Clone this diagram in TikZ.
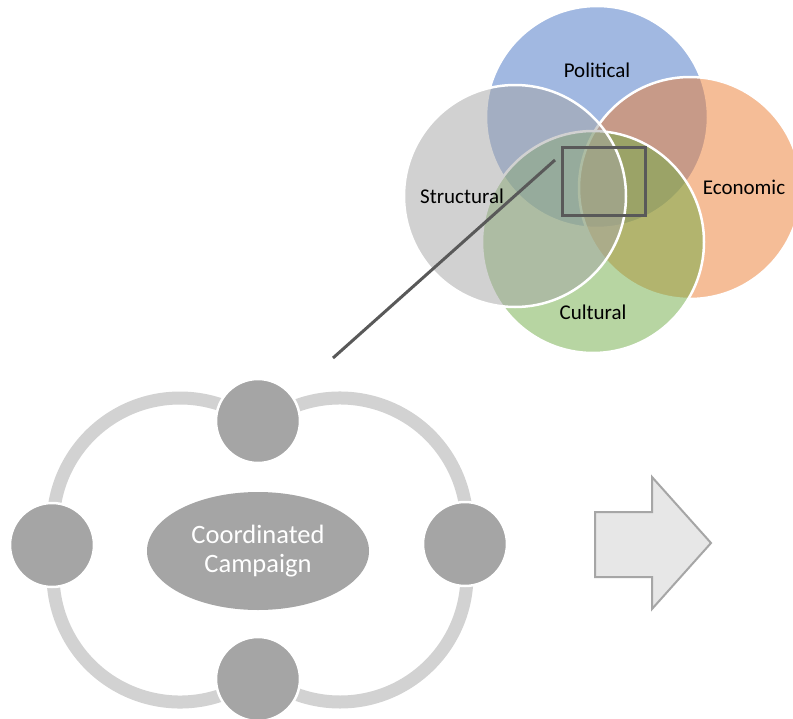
\documentclass[tikz,border=0pt]{standalone}
\usepackage{fontspec}
\setmainfont{Carlito}
\usetikzlibrary{shapes.geometric}
\definecolor{vblue}{HTML}{4472C4}
\definecolor{vorange}{HTML}{ED7D31}
\definecolor{vgray}{HTML}{A5A5A5}
\definecolor{vgreen}{HTML}{70AD47}
\definecolor{satgray}{HTML}{A5A5A5}
\definecolor{ringgray}{HTML}{D2D2D2}
\definecolor{darkline}{HTML}{595959}
\definecolor{arrowfill}{HTML}{E7E7E7}
\definecolor{arrowline}{HTML}{A6A6A6}
\begin{document}
\begin{tikzpicture}[x=1pt,y=-1pt,
  venn/.style={circle, minimum size=222pt, inner sep=0pt, draw=white, line width=2.5pt, fill opacity=0.5},
  vlabel/.style={font=\fontsize{21}{25}\selectfont, text=black, anchor=base, inner sep=0pt},
  sat/.style={circle, fill=satgray, draw=white, line width=2.5pt, minimum size=84pt, inner sep=0pt},
  ringarc/.style={draw=ringgray, line width=13pt},
  hub/.style={ellipse, fill=satgray, minimum width=222pt, minimum height=118pt, inner sep=0pt,
    text=white, align=center, font=\fontsize{26.5}{28.5}\selectfont},
  callout/.style={draw=darkline, line width=3pt},
  zoombox/.style={draw=darkline, line width=3pt, minimum width=83pt, minimum height=68pt, inner sep=0pt},
  bigarrow/.style={fill=arrowfill, draw=arrowline, line width=2pt, line join=miter}
]
\clip (0,0) rectangle (793,718);
\fill[white] (0,0) rectangle (793,718);

% Venn diagram
\node[venn, fill=vblue]   (political)  at (597,117) {};
\node[venn, fill=vorange] (economic)   at (690,188) {};
\node[venn, fill=vgreen]  (cultural)   at (593,242) {};
\node[venn, fill=vgray]   (structural) at (515,196) {};

\node[vlabel] (lpolitical)  at (597,77)  {Political};
\node[vlabel] (lstructural) at (462,203) {Structural};
\node[vlabel] (leconomic)   at (744,194) {Economic};
\node[vlabel] (lcultural)   at (593,319) {Cultural};

% zoom box and callout
\node[zoombox] (zoom) at (603.5,181) {};
\coordinate (callA) at (333,358);
\coordinate (callB) at (555,160);
\draw[callout] (callA) -- (callB);

% ring
\draw[ringarc] (180,525) ++(180:127) arc[start angle=180, end angle=300, radius=127];
\draw[ringarc] (340,525) ++(240:127) arc[start angle=240, end angle=360, radius=127];
\draw[ringarc] (340,575) ++(0:127)   arc[start angle=0,   end angle=120, radius=127];
\draw[ringarc] (180,575) ++(60:127)  arc[start angle=60,  end angle=182, radius=127];

% satellites
\node[sat] (top)    at (258,421) {};
\node[sat] (left)   at (52,545)  {};
\node[sat] (right)  at (465,544) {};
\node[sat] (bottom) at (258,679) {};

% hub
\node[hub] (hubnode) at (258,551) {Coordinated\\Campaign};

% arrow
\draw[bigarrow] (595,512) -- (652,512) -- (652,477) -- (711,543) -- (652,609) -- (652,577) -- (595,577) -- cycle;
\end{tikzpicture}
\end{document}
